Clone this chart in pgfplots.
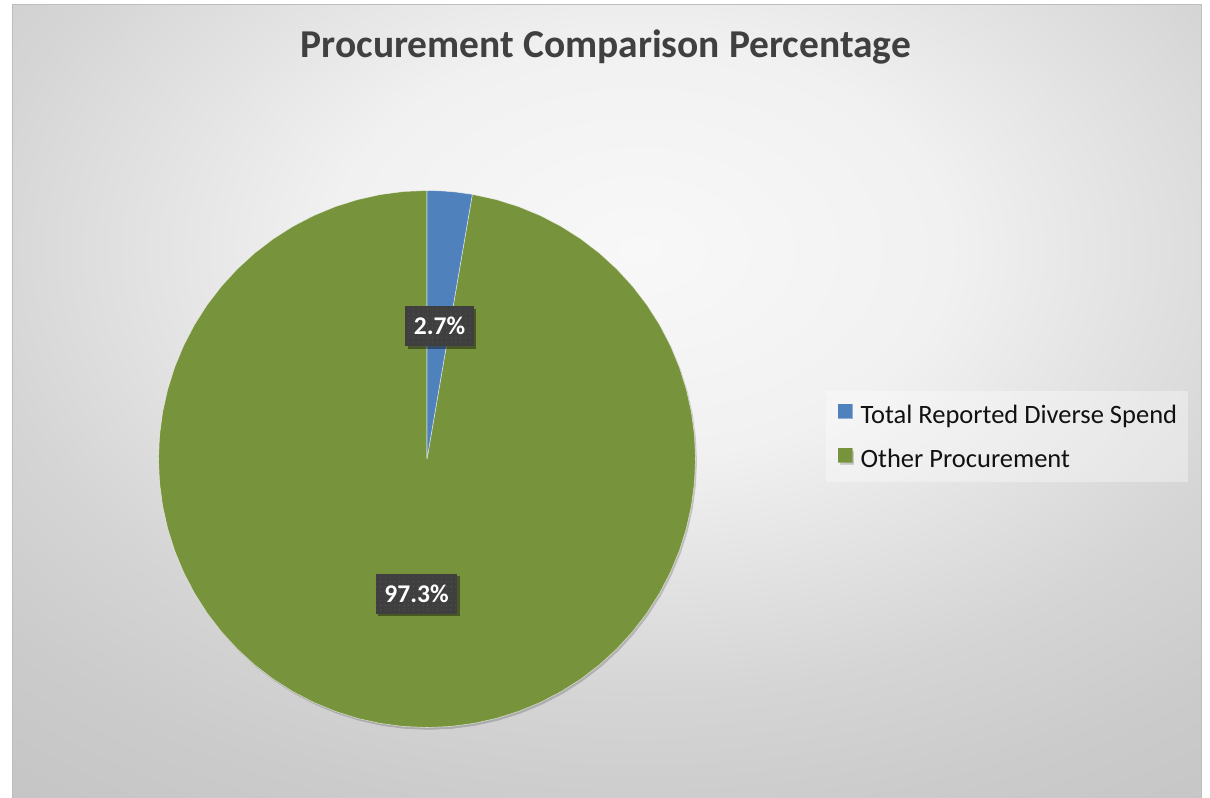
\documentclass[border=0pt]{standalone}
\usepackage{fontspec}
\setmainfont{Carlito}
\usepackage{pgfplots}
\pgfplotsset{compat=1.18}
\usepgfplotslibrary{polar}
\usetikzlibrary{patterns.meta,shadows}
\definecolor{blueS}{HTML}{4F81BD}
\definecolor{greenS}{HTML}{77933C}
\definecolor{titlec}{HTML}{404040}
\definecolor{labelbg}{HTML}{3F3F3F}
\definecolor{labeldot}{HTML}{5A5A5A}
\definecolor{legtext}{HTML}{111111}
\definecolor{bordc}{HTML}{BDBDBD}
\definecolor{bgA}{HTML}{F8F8F8}
\definecolor{bgB}{HTML}{F1F1F1}
\definecolor{bgC}{HTML}{D5D5D5}
\definecolor{bgD}{HTML}{CBCBCB}
\definecolor{bgE}{HTML}{C3C3C3}
\pgfdeclareradialshading{chartbg}{\pgfpoint{0bp}{0bp}}{color(0bp)=(bgA); color(6.5bp)=(bgB); color(14bp)=(bgC); color(18bp)=(bgD); color(23bp)=(bgE); color(50bp)=(bgE)}
\tikzset{lab/.style={drop shadow={shadow xshift=2.5bp, shadow yshift=-2.5bp, opacity=0.4, fill=black},
  fill=labelbg, postaction={pattern={Dots[radius=0.55bp,distance=4.7bp]}, pattern color=labeldot},
  text=white, font=\fontsize{25.5bp}{28bp}\selectfont\bfseries, inner xsep=8.5bp, inner ysep=0pt,
  minimum height=40bp, text height=16.6bp, text depth=0pt}}
\begin{document}
\begin{tikzpicture}
\path[use as bounding box] (0,0) rectangle (1210bp,798bp);
\begin{scope}[x=1bp,y=1bp]
\fill[white] (0,0) rectangle (1210,798);
\begin{scope}
\clip (12.5,0) rectangle (1201.5,793.5);
\shade[shading=chartbg] (-548,-246) rectangle (1828,1342);
\end{scope}
\draw[bordc, line width=1bp] (12.5,0) -- (12.5,793.5) -- (1201.5,793.5) -- (1201.5,0);
\fill[white, opacity=0.35] (826,316) rectangle (1188,407);
\node[anchor=base, font=\fontsize{39.5bp}{44bp}\selectfont\bfseries, text=titlec, inner sep=0pt] at (606,740.7) {Procurement Comparison Percentage};
\end{scope}
\begin{axis}[at={(427bp,339bp)}, anchor=center, width=537bp, height=537bp, scale only axis,
  xmin=-1, xmax=1, ymin=-1, ymax=1, hide axis, clip=false, reverse legend,
  legend cell align=left,
  legend style={at={(1.2654,0.6024)}, anchor=north west, draw=none, fill=none,
    inner sep=0pt, outer sep=0pt, row sep=17bp, column sep=8bp,
    font=\fontsize{26.5bp}{30bp}\selectfont, text=legtext,
    nodes={inner sep=0pt, text height=18bp, text depth=7bp}}]
\addplot[fill=greenS, draw=white, draw opacity=0.6, line width=0.6bp, data cs=polar,
  drop shadow={shadow xshift=1.5bp, shadow yshift=-2.5bp, opacity=0.18, fill=black},
  legend image code/.code={\fill[greenS] (0bp,0bp) rectangle (14bp,14bp);}]
  coordinates {(0,0) (80.28,1) (75,1) (70,1) (65,1) (60,1) (55,1) (50,1) (45,1) (40,1) (35,1) (30,1) (25,1) (20,1) (15,1) (10,1) (5,1) (0,1) (-5,1) (-10,1) (-15,1) (-20,1) (-25,1) (-30,1) (-35,1) (-40,1) (-45,1) (-50,1) (-55,1) (-60,1) (-65,1) (-70,1) (-75,1) (-80,1) (-85,1) (-90,1) (-95,1) (-100,1) (-105,1) (-110,1) (-115,1) (-120,1) (-125,1) (-130,1) (-135,1) (-140,1) (-145,1) (-150,1) (-155,1) (-160,1) (-165,1) (-170,1) (-175,1) (-180,1) (-185,1) (-190,1) (-195,1) (-200,1) (-205,1) (-210,1) (-215,1) (-220,1) (-225,1) (-230,1) (-235,1) (-240,1) (-245,1) (-250,1) (-255,1) (-260,1) (-265,1) (-270,1)} -- cycle;
\addlegendentry{Other Procurement}
\addplot[fill=blueS, draw=white, draw opacity=0.6, line width=0.6bp, data cs=polar,
  legend image code/.code={\fill[blueS] (0bp,0bp) rectangle (14bp,14bp);}]
  coordinates {(0,0) (90,1) (87,1) (84,1) (80.28,1)} -- cycle;
\addlegendentry{Total Reported Diverse Spend}
\node[lab] at (axis cs:0.0466,0.4953) {2.7\%};
\node[lab] at (axis cs:-0.0391,-0.5028) {97.3\%};
\end{axis}
\end{tikzpicture}
\end{document}
